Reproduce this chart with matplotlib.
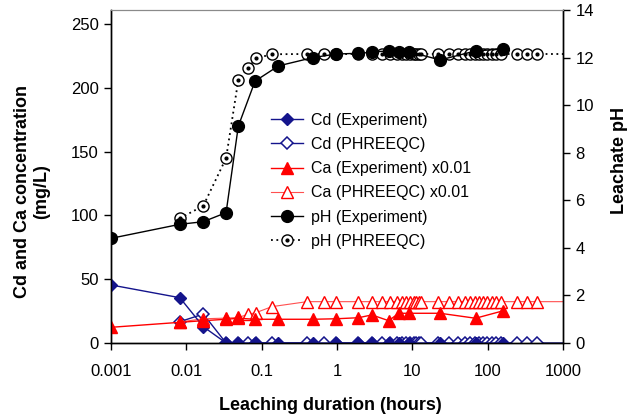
import matplotlib
matplotlib.use("Agg")
import matplotlib.pyplot as plt
from matplotlib.legend_handler import HandlerTuple

plt.rcParams['font.family'] = ['Liberation Sans', 'DejaVu Sans']

# ---------------- data ----------------
# experiment sampling times (hours)
t_exp = [0.001, 0.0082, 0.0168, 0.0337, 0.049, 0.0817, 0.167, 0.48, 0.98,
         1.92, 2.9, 4.85, 6.6, 8.9, 23.4, 69, 162]
cd_exp = [45.5, 35.5, 12.8, 0, 0, 0, 0, 0, 0, 0, 0, 0, 0, 0, 0, 0, 0]
ca_exp = [12.3, 16.2, 17.5, 18.6, 19.4, 18.6, 18.6, 18.6, 19.0,
          19.8, 22.0, 17.5, 23.3, 23.3, 23.3, 19.4, 25.3]
ph_exp = [4.40, 4.99, 5.10, 5.48, 9.12, 11.01, 11.65, 12.00, 12.15,
          12.18, 12.22, 12.29, 12.25, 12.25, 11.90, 12.28, 12.36]

# PHREEQC model times (hours); last value only continues the line past the axis
t_mod = [0.0082, 0.0168, 0.0337, 0.049, 0.066, 0.084, 0.137, 0.40, 0.67, 0.96,
         1.92, 2.9, 3.93, 5.07, 6.2, 7.3, 8.3, 9.4, 10.4, 11.2, 12.1, 13.0,
         22.2, 31.1, 41, 50, 58.6, 68, 77.8, 88, 99, 114, 130, 150, 244, 332, 450,
         2000]
cd_mod = [16.7, 22.7] + [0] * 36
ca_mod = [16.5, 19.0, 19.5, 20.0, 22.5, 23.8, 28.5] + [32.4] * 31
ph_mod = [5.24, 5.77, 7.77, 11.06, 11.57, 11.97, 12.14] + [12.15] * 31

x_ticks = [0.001, 0.01, 0.1, 1, 10, 100, 1000]
x_tick_labels = ['0.001', '0.01', '0.1', '1', '10', '100', '1000']
left_ticks = [0, 50, 100, 150, 200, 250]
right_ticks = [0, 2, 4, 6, 8, 10, 12, 14]

labels = ['Cd (Experiment)', 'Cd (PHREEQC)', 'Ca (Experiment) x0.01',
          'Ca (PHREEQC) x0.01', 'pH (Experiment)', 'pH (PHREEQC)']

# ---------------- plot ----------------
navy = '#14148c'
red = '#ff0000'

fig = plt.figure(figsize=(6.34, 4.18), dpi=100)
ax = fig.add_axes([111/634, 75/418, 452/634, 333/418])
ax2 = ax.twinx()

mk_mod = slice(0, -1)

h_cd_e, = ax.plot(t_exp, cd_exp, color=navy, lw=1.0, marker='D', ms=6,
                  mfc=navy, mec=navy, zorder=3)
h_cd_m, = ax.plot(t_mod, cd_mod, color=navy, lw=1.0, marker='D', ms=6,
                  mfc='white', mec=navy, mew=1.1, markevery=mk_mod, zorder=2)
h_ca_e, = ax.plot(t_exp, ca_exp, color=red, lw=1.0, marker='^', ms=8.5,
                  mfc=red, mec=red, zorder=3)
h_ca_m, = ax.plot(t_mod, ca_mod, color='#ff5050', lw=0.8, marker='^', ms=8.5,
                  mfc='white', mec=red, mew=1.0, markevery=mk_mod, zorder=2)

h_ph_e, = ax2.plot(t_exp, ph_exp, color='black', lw=1.0, marker='o', ms=8.5,
                   mfc='black', mec='black', zorder=3)
h_ph_m, = ax2.plot(t_mod, ph_mod, color='black', lw=1.3, ls=(0, (1, 2)),
                   marker='o', ms=8, mfc='white', mec='black', mew=1.0,
                   markevery=mk_mod, zorder=2)
h_ph_d, = ax2.plot(t_mod[:-1], ph_mod[:-1], ls='none', marker='o', ms=2,
                   mfc='black', mec='black', zorder=2.5)

ax.set_xscale('log')
ax.set_xlim(0.001, 1000)
ax.set_ylim(0, 261)
ax2.set_ylim(0, 14)
ax.set_xticks(x_ticks)
ax.set_xticklabels(x_tick_labels)
ax.xaxis.set_minor_locator(matplotlib.ticker.NullLocator())
ax.set_yticks(left_ticks)
ax2.set_yticks(right_ticks)

for a in (ax, ax2):
    a.tick_params(axis='both', which='major', labelsize=12, length=5,
                  width=1.0, direction='out', pad=4)
    for s in ('left', 'bottom', 'right'):
        a.spines[s].set_linewidth(1.0)
        a.spines[s].set_color('black')
    a.spines['top'].set_color('#8a8a8a')
    a.spines['top'].set_linewidth(0.8)
ax.tick_params(axis='x', pad=10)

ax.set_xlabel('Leaching duration (hours)', fontsize=13, fontweight='bold',
              va='center')
ax.xaxis.set_label_coords(0.485, -0.188)
ax.set_ylabel('Cd and Ca concentration\n(mg/L)', fontsize=13,
              fontweight='bold', va='center', linespacing=1.15)
ax.yaxis.set_label_coords(-0.175, 0.455)
ax2.set_ylabel('Leachate pH', fontsize=13, fontweight='bold', va='center',
               rotation=90)
ax2.yaxis.set_label_coords(1.126, 0.547)

handles = [h_cd_e, h_cd_m, h_ca_e, h_ca_m, h_ph_e, (h_ph_m, h_ph_d)]
leg = ax2.legend(handles, labels, loc='upper left',
                 bbox_to_anchor=(0.355, 0.692), frameon=False, fontsize=11.5,
                 handlelength=2.0, handletextpad=0.45, labelspacing=0.58,
                 borderpad=0, borderaxespad=0,
                 handler_map={tuple: HandlerTuple(ndivide=1)})

fig.savefig('out.png', dpi=100)
